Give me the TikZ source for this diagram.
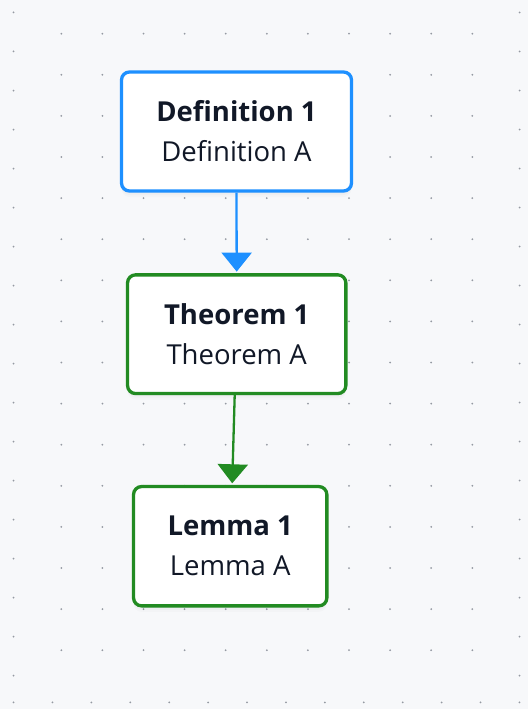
\documentclass[tikz,border=0pt]{standalone}
\usepackage{fontspec}
\setmainfont{Open Sans}
\usetikzlibrary{arrows.meta}
\definecolor{bgc}{HTML}{F7F8FA}
\definecolor{dotc}{HTML}{9499A2}
\definecolor{defblue}{HTML}{1E90FF}
\definecolor{thmgreen}{HTML}{228B22}
\definecolor{txt}{HTML}{111827}
\begin{document}
\begin{tikzpicture}[x=1pt,y=-1pt,
  box/.style={draw, line width=3.3pt, rounded corners=8pt, fill=white,
    align=center, inner sep=0pt, text=txt,
    font=\fontsize{27.5}{40}\selectfont,
    preaction={draw=none, fill=black, fill opacity=0.025, transform canvas={yshift=-2pt}},
    preaction={draw=none, fill=black, fill opacity=0.02, transform canvas={yshift=-4pt}},
    preaction={draw=none, fill=black, fill opacity=0.015, transform canvas={yshift=-6pt}}},
  dot/.style={fill=dotc},
  conn/.style={line width=2.3pt, -{Triangle[width=30pt,length=19pt]}}]
\fill[bgc] (0,0) rectangle (528,709);
\useasboundingbox (0,0) rectangle (528,709);
% inner dot grid
\foreach \i in {0,...,10}{
  \foreach \j in {0,...,15}{
    \fill[dot] (61.3+41.1*\i, 33.7+41.1*\j) circle (1.0);
  }
}
% outer dot border
\foreach \k in {0,...,17}{
  \fill[dot] (13.5, 12.5+39*\k) circle (1.0);
  \fill[dot] (519.5, 12.5+39*\k) circle (1.0);
}
\foreach \k in {0,...,13}{
  \fill[dot] (13.5+38.92*\k, 702.4) circle (1.0);
}
% nodes
\node[box, draw=defblue, minimum width=230pt, minimum height=119pt] (def) at (236.5,131.5)
  {\textbf{Definition 1}\\Definition A};
\node[box, draw=thmgreen, minimum width=218.3pt, minimum height=118.7pt] (thm) at (236.7,334.2)
  {\textbf{Theorem 1}\\Theorem A};
\node[box, draw=thmgreen, minimum width=193.3pt, minimum height=119.3pt] (lem) at (230.2,546.2)
  {\textbf{Lemma 1}\\Lemma A};
% connectors
\draw[conn, defblue] (def.south) -- ([yshift=1.6pt]thm.north);
\draw[conn, thmgreen] ([xshift=-2pt]thm.south) -- ([xshift=2pt,yshift=1.6pt]lem.north);
\end{tikzpicture}
\end{document}
